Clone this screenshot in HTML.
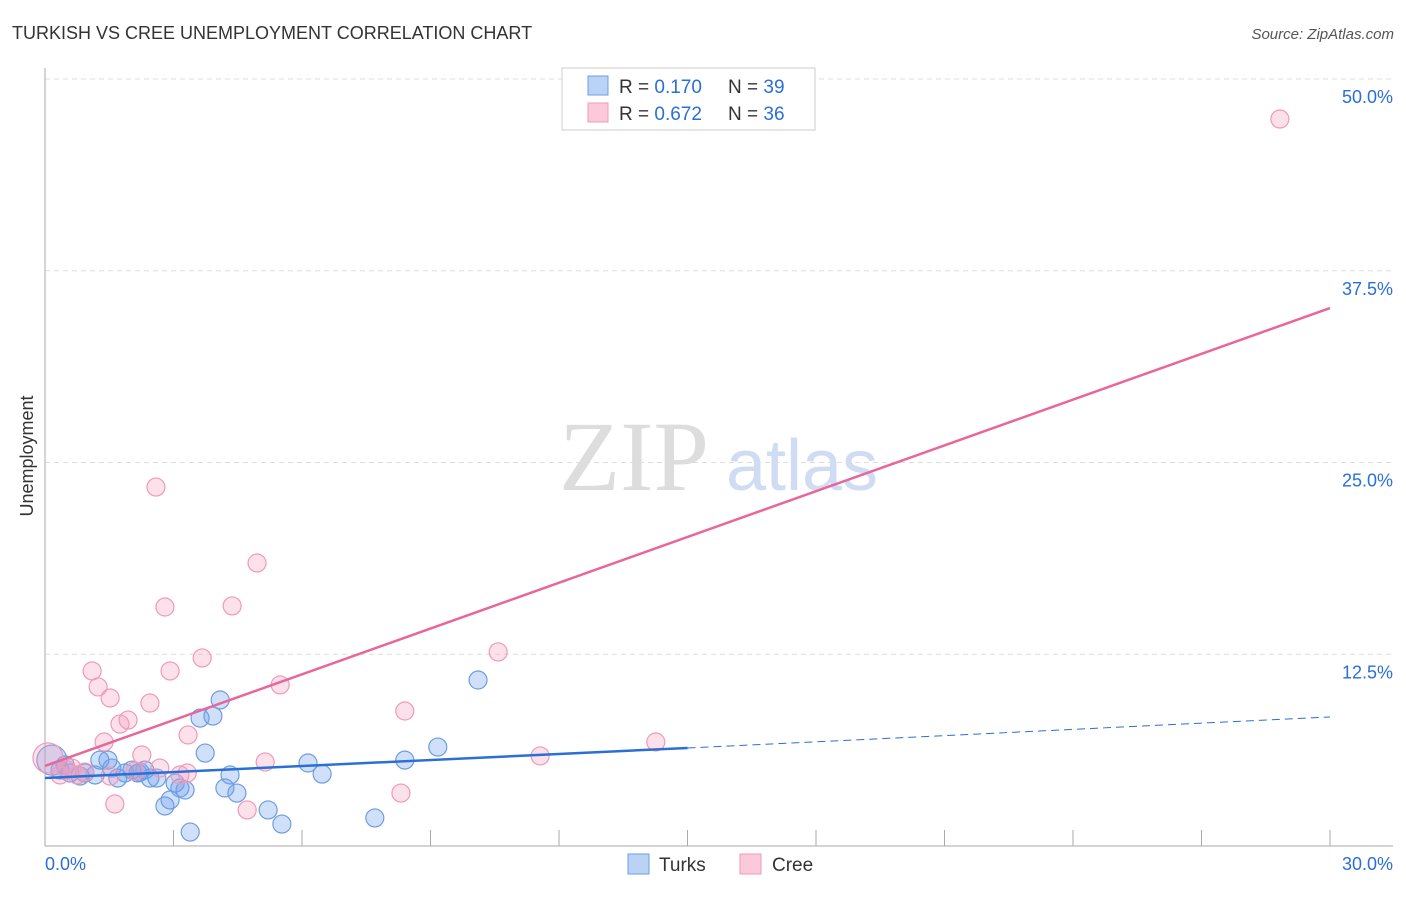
<!DOCTYPE html>
<html><head><meta charset="utf-8"><style>
body{margin:0;background:#fff;font-family:"Liberation Sans",sans-serif;}
svg text{font-family:"Liberation Sans",sans-serif;}
svg text.serif{font-family:"Liberation Serif",serif;}
</style></head><body>
<svg width="1406" height="892" id="chart">
<text x="12" y="39" font-size="18" fill="#333">TURKISH VS CREE UNEMPLOYMENT CORRELATION CHART</text>
<text x="1394" y="39" font-size="15" fill="#555" font-style="italic" text-anchor="end">Source: ZipAtlas.com</text>
<text transform="translate(33,456) rotate(-90)" font-size="18" fill="#333" text-anchor="middle">Unemployment</text>
<g>
<text class="serif" x="634" y="490" font-size="100" fill="#ddd" text-anchor="middle">ZIP</text>
<text x="802" y="490" font-size="72" fill="#cfdcf3" text-anchor="middle">atlas</text>
</g>
<g id="grid"></g><g id="axes"></g><g id="marks"></g>
<g>
<rect x="562" y="68" width="253" height="62" fill="#fff" stroke="#ccc"/>
<rect x="588" y="76" width="20" height="19" fill="#b9d2f5" stroke="#6d9de0"/>
<rect x="588" y="103" width="20" height="19" fill="#fbc9d9" stroke="#ef9ab8"/>
<text x="619" y="93" font-size="19" fill="#333">R = <tspan fill="#2a6fd6">0.170</tspan></text>
<text x="728" y="93" font-size="19" fill="#333">N = <tspan fill="#2a6fd6">39</tspan></text>
<text x="619" y="120" font-size="19" fill="#333">R = <tspan fill="#2a6fd6">0.672</tspan></text>
<text x="728" y="120" font-size="19" fill="#333">N = <tspan fill="#2a6fd6">36</tspan></text>
</g>
<g>
<rect x="628" y="854" width="21" height="20" fill="#b9d2f5" stroke="#6d9de0"/>
<text x="659" y="871" font-size="19" fill="#333">Turks</text>
<rect x="740" y="854" width="21" height="20" fill="#fbc9d9" stroke="#ef9ab8"/>
<text x="772" y="871" font-size="19" fill="#333">Cree</text>
</g>
</svg>
<script>
const yTicks=[12.5,25,37.5,50];
const yTickLabels=["12.5%","25.0%","37.5%","50.0%"];
const turksX=[0.16,0.35,0.58,0.93,1.17,1.28,1.47,1.56,1.70,1.87,2.03,2.17,2.33,2.45,2.61,2.80,2.92,3.04,3.15,3.27,3.39,3.62,3.74,3.92,4.09,4.20,4.32,4.48,5.21,5.53,6.14,6.47,7.70,8.40,9.17,10.11,0.82,0.47,2.22];
const turksY=[5.6,4.95,4.76,4.76,4.63,5.6,5.6,5.08,4.43,4.76,4.95,4.76,4.95,4.43,4.43,2.61,3.0,4.1,3.78,3.65,0.91,8.34,6.06,8.47,9.52,3.78,4.63,3.45,2.35,1.43,5.41,4.69,1.83,5.6,6.45,10.82,4.56,5.28,4.82];
const creeX=[0.07,0.35,0.63,0.93,1.10,1.24,1.38,1.52,1.63,1.75,1.94,2.26,2.45,2.59,2.68,2.80,2.92,3.15,3.34,3.32,3.67,4.37,4.72,4.95,5.14,5.49,8.31,8.40,10.58,11.56,14.26,28.83,0.75,0.51,2.10,1.52];
const creeY=[5.74,4.63,5.08,4.82,11.41,10.37,6.78,9.65,2.74,7.95,8.21,5.93,9.32,23.40,5.08,15.58,11.41,4.63,7.24,4.76,12.26,15.65,2.35,18.45,5.48,10.50,3.45,8.80,12.65,5.87,6.78,47.39,4.63,4.95,4.89,4.56];
const turksTrend=[4.43,6.39,8.41]; // at x=0,15,30
const creeTrend=[5.22,35.07];
const NS="http://www.w3.org/2000/svg";
const X=v=>45+v*1285/30, Y=v=>846-v*767/50;
function mk(t,a,p){const e=document.createElementNS(NS,t);for(const k in a)e.setAttribute(k,a[k]);document.getElementById(p).appendChild(e);return e;}
yTicks.forEach((t,i)=>{
 const l=mk('line',{x1:45,x2:1393,y1:Y(t),y2:Y(t),stroke:'#ddd','stroke-dasharray':'5,4'},'grid');
 
 
 const tx=mk('text',{x:1393,y:Y(t)+24,'font-size':18,fill:'#2a6fd6','text-anchor':'end'},'grid');
 tx.textContent=yTickLabels[i];
 
 
});
const ax=mk('line',{x1:45,x2:45,y1:68,y2:846,stroke:'#aaa'},'axes');


const bx=mk('line',{x1:45,x2:1393,y1:846,y2:846,stroke:'#aaa'},'axes');


for(let i=1;i<=10;i++){const t=mk('line',{x1:X(i*3),x2:X(i*3),y1:830,y2:846,stroke:'#aaa'},'axes');
 
 }
[[0,'0.0%','start',45],[30,'30.0%','end',1393]].forEach(d=>{const t=mk('text',{x:d[3],y:870,'font-size':18,fill:'#2a6fd6','text-anchor':d[2]},'axes');t.textContent=d[1];
 
 });
function pts(xs,ys,fill,stroke,name){xs.forEach((x,i)=>{const c=mk('circle',{cx:X(x),cy:Y(ys[i]),r:(i==0?15:9),fill:fill,stroke:stroke,'stroke-width':1.2},'marks');
 
 });}
pts(turksX,turksY,'rgba(110,160,235,0.32)','#6d9de0','turks-point');
pts(creeX,creeY,'rgba(245,160,190,0.32)','#ef9ab8','cree-point');
let l=mk('line',{x1:X(0),y1:Y(turksTrend[0]),x2:X(15),y2:Y(turksTrend[1]),stroke:'#2a6fd6','stroke-width':2.5},'marks');


l=mk('line',{x1:X(15),y1:Y(turksTrend[1]),x2:X(30),y2:Y(turksTrend[2]),stroke:'#2a6fd6','stroke-width':1,'stroke-dasharray':'8,5'},'marks');


l=mk('line',{x1:X(0),y1:Y(creeTrend[0]),x2:X(30),y2:Y(creeTrend[1]),stroke:'#e8669a','stroke-width':2.5},'marks');


</script>
</body></html>
